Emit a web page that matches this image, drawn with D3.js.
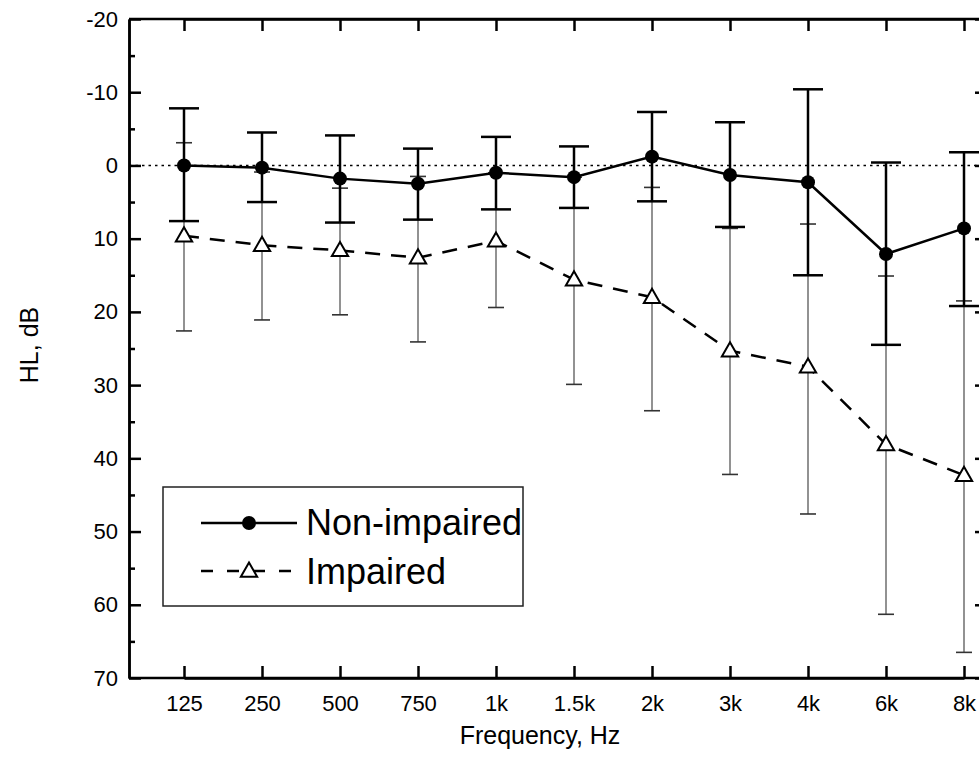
<!DOCTYPE html>
<html>
<head>
<meta charset="utf-8">
<script src="https://cdn.jsdelivr.net/npm/d3@7"></script>
<style>
  body { margin: 0; background: #fff; }
  svg { font-family: "Liberation Sans", Arial, sans-serif; }
</style>
</head>
<body>
<div id="chart"></div>
<script>
// data
var freqs = ["125", "250", "500", "750", "1k", "1.5k", "2k", "3k", "4k", "6k", "8k"];

var normalMean = [0.0, 0.3, 1.8, 2.5, 1.0, 1.6, -1.2, 1.3, 2.3, 12.1, 8.6];
var normalLow  = [-7.8, -4.5, -4.1, -2.3, -3.9, -2.6, -7.3, -5.9, -10.4, -0.4, -1.8];
var normalHigh = [7.6, 5.0, 7.8, 7.4, 6.0, 5.8, 4.9, 8.4, 15.0, 24.5, 19.2];

var impairedMean = [9.6, 10.9, 11.6, 12.6, 10.3, 15.6, 18.0, 25.3, 27.5, 38.1, 42.3];
var impairedLow  = [-3.1, 0.9, 3.1, 1.5, 1.0, 1.6, 3.0, 8.6, 8.0, 15.1, 18.5];
var impairedHigh = [22.6, 21.1, 20.4, 24.1, 19.4, 29.9, 33.5, 42.2, 47.6, 61.3, 66.5];

var yMajor = [-20, -10, 0, 10, 20, 30, 40, 50, 60, 70];
var yMinor = [-15, -5, 5, 15, 25, 35, 45, 55, 65];

// set the dimensions and margins of the graph
var margin = {top: 19, right: -8, bottom: 88, left: 129},
    width = 979 - margin.left - margin.right,
    height = 766 - margin.top - margin.bottom;

var svg = d3.select("#chart")
  .append("svg")
    .attr("width", 979)
    .attr("height", 766)
  .append("g")
    .attr("transform", "translate(" + margin.left + "," + margin.top + ")");

var x = d3.scalePoint()
  .domain(freqs)
  .range([55, 835]);

var y = d3.scaleLinear()
  .domain([-20, 70])
  .range([0, height]);

// axes, ticks pointing inward
function styleAxis(g) {
  g.select(".domain").attr("stroke", "#000").attr("stroke-width", 2.5);
  g.selectAll(".tick line").attr("stroke", "#000").attr("stroke-width", 2.5);
  g.selectAll("text").attr("fill", "#000").style("font-size", "22px")
    .style("font-family", "Liberation Sans, Arial, sans-serif");
}

svg.append("g")
  .call(d3.axisLeft(y).tickValues(yMajor).tickSize(-12).tickPadding(11).tickSizeOuter(0)
    .tickFormat(function(d) { return String(d); }))
  .call(styleAxis);
svg.append("g")
  .call(d3.axisLeft(y).tickValues(yMinor).tickSize(-6).tickFormat("").tickSizeOuter(0))
  .call(styleAxis);

svg.append("g")
  .attr("transform", "translate(" + width + ",0)")
  .call(d3.axisRight(y).tickValues(yMajor).tickSize(-12).tickFormat("").tickSizeOuter(0))
  .call(styleAxis);
svg.append("g")
  .attr("transform", "translate(" + width + ",0)")
  .call(d3.axisRight(y).tickValues(yMinor).tickSize(-6).tickFormat("").tickSizeOuter(0))
  .call(styleAxis);

svg.append("g")
  .attr("transform", "translate(0," + height + ")")
  .call(d3.axisBottom(x).tickSize(-12).tickPadding(17).tickSizeOuter(0))
  .call(styleAxis);

svg.append("g")
  .call(d3.axisTop(x).tickSize(-12).tickFormat("").tickSizeOuter(0))
  .call(styleAxis);

// frame lines over the full width
svg.append("line").attr("x1", 0).attr("x2", width).attr("y1", 0).attr("y2", 0)
  .attr("stroke", "#000").attr("stroke-width", 2.5);
svg.append("line").attr("x1", 0).attr("x2", width).attr("y1", height).attr("y2", height)
  .attr("stroke", "#000").attr("stroke-width", 2.5);

// axis titles
svg.append("text")
  .attr("x", 540 - margin.left)
  .attr("y", height + 66)
  .attr("text-anchor", "middle")
  .style("font-size", "25px")
  .text("Frequency, Hz");

svg.append("text")
  .attr("transform", "translate(" + (38 - margin.left) + "," + (345 - margin.top) + ")rotate(-90)")
  .attr("text-anchor", "middle")
  .style("font-size", "25px")
  .text("HL, dB");

// zero reference line
svg.append("line")
  .attr("x1", 0).attr("x2", width)
  .attr("y1", y(0)).attr("y2", y(0))
  .attr("stroke", "#000")
  .attr("stroke-width", 1.5)
  .attr("stroke-dasharray", "2.5,4");

// Impaired error bars (thin, grey)
freqs.forEach(function(f, i) {
  svg.append("line")
    .attr("x1", x(f)).attr("x2", x(f))
    .attr("y1", y(impairedLow[i])).attr("y2", y(impairedHigh[i]))
    .attr("stroke", "#777").attr("stroke-width", 1.6);
  [impairedLow[i], impairedHigh[i]].forEach(function(v) {
    svg.append("line")
      .attr("x1", x(f) - 8).attr("x2", x(f) + 8)
      .attr("y1", y(v)).attr("y2", y(v))
      .attr("stroke", "#333").attr("stroke-width", 1.6);
  });
});

// Non-impaired error bars (thick)
freqs.forEach(function(f, i) {
  svg.append("line")
    .attr("x1", x(f)).attr("x2", x(f))
    .attr("y1", y(normalLow[i])).attr("y2", y(normalHigh[i]))
    .attr("stroke", "#000").attr("stroke-width", 2.5);
  [normalLow[i], normalHigh[i]].forEach(function(v) {
    svg.append("line")
      .attr("x1", x(f) - 15).attr("x2", x(f) + 15)
      .attr("y1", y(v)).attr("y2", y(v))
      .attr("stroke", "#000").attr("stroke-width", 2.5);
  });
});

// Lines
var line = d3.line()
  .x(function(d, i) { return x(freqs[i]); })
  .y(function(d) { return y(d); });

svg.append("path")
  .datum(impairedMean)
  .attr("d", line)
  .attr("fill", "none")
  .attr("stroke", "#000")
  .attr("stroke-width", 2.5)
  .attr("stroke-dasharray", "15,11");

svg.append("path")
  .datum(normalMean)
  .attr("d", line)
  .attr("fill", "none")
  .attr("stroke", "#000")
  .attr("stroke-width", 2.5);

// markers
var tri = d3.symbol().type(d3.symbolTriangle).size(115);

svg.selectAll("mytri")
  .data(impairedMean)
  .enter()
  .append("path")
    .attr("d", tri)
    .attr("transform", function(d, i) { return "translate(" + x(freqs[i]) + "," + (y(d) + 1) + ")"; })
    .attr("fill", "#fff")
    .attr("stroke", "#000")
    .attr("stroke-width", 2);

svg.selectAll("mycircle")
  .data(normalMean)
  .enter()
  .append("circle")
    .attr("cx", function(d, i) { return x(freqs[i]); })
    .attr("cy", function(d) { return y(d); })
    .attr("r", 7)
    .attr("fill", "#000");

// Legend
var lg = svg.append("g").attr("transform", "translate(" + (163 - margin.left) + "," + (487 - margin.top) + ")");
lg.append("rect")
  .attr("width", 360).attr("height", 119)
  .attr("fill", "#fff")
  .attr("stroke", "#222").attr("stroke-width", 1.5);

lg.append("line").attr("x1", 38).attr("x2", 134).attr("y1", 36).attr("y2", 36)
  .attr("stroke", "#000").attr("stroke-width", 2.5);
lg.append("circle").attr("cx", 86).attr("cy", 36).attr("r", 7).attr("fill", "#000");
lg.append("text").attr("x", 143).attr("y", 48).style("font-size", "36px").text("Non-impaired");

lg.append("line").attr("x1", 38).attr("x2", 134).attr("y1", 84).attr("y2", 84)
  .attr("stroke", "#000").attr("stroke-width", 2.5)
  .attr("stroke-dasharray", "12,14");
lg.append("path").attr("d", tri)
  .attr("transform", "translate(86,85)")
  .attr("fill", "#fff").attr("stroke", "#000").attr("stroke-width", 2);
lg.append("text").attr("x", 143).attr("y", 97).style("font-size", "36px").text("Impaired");
</script>
</body>
</html>
